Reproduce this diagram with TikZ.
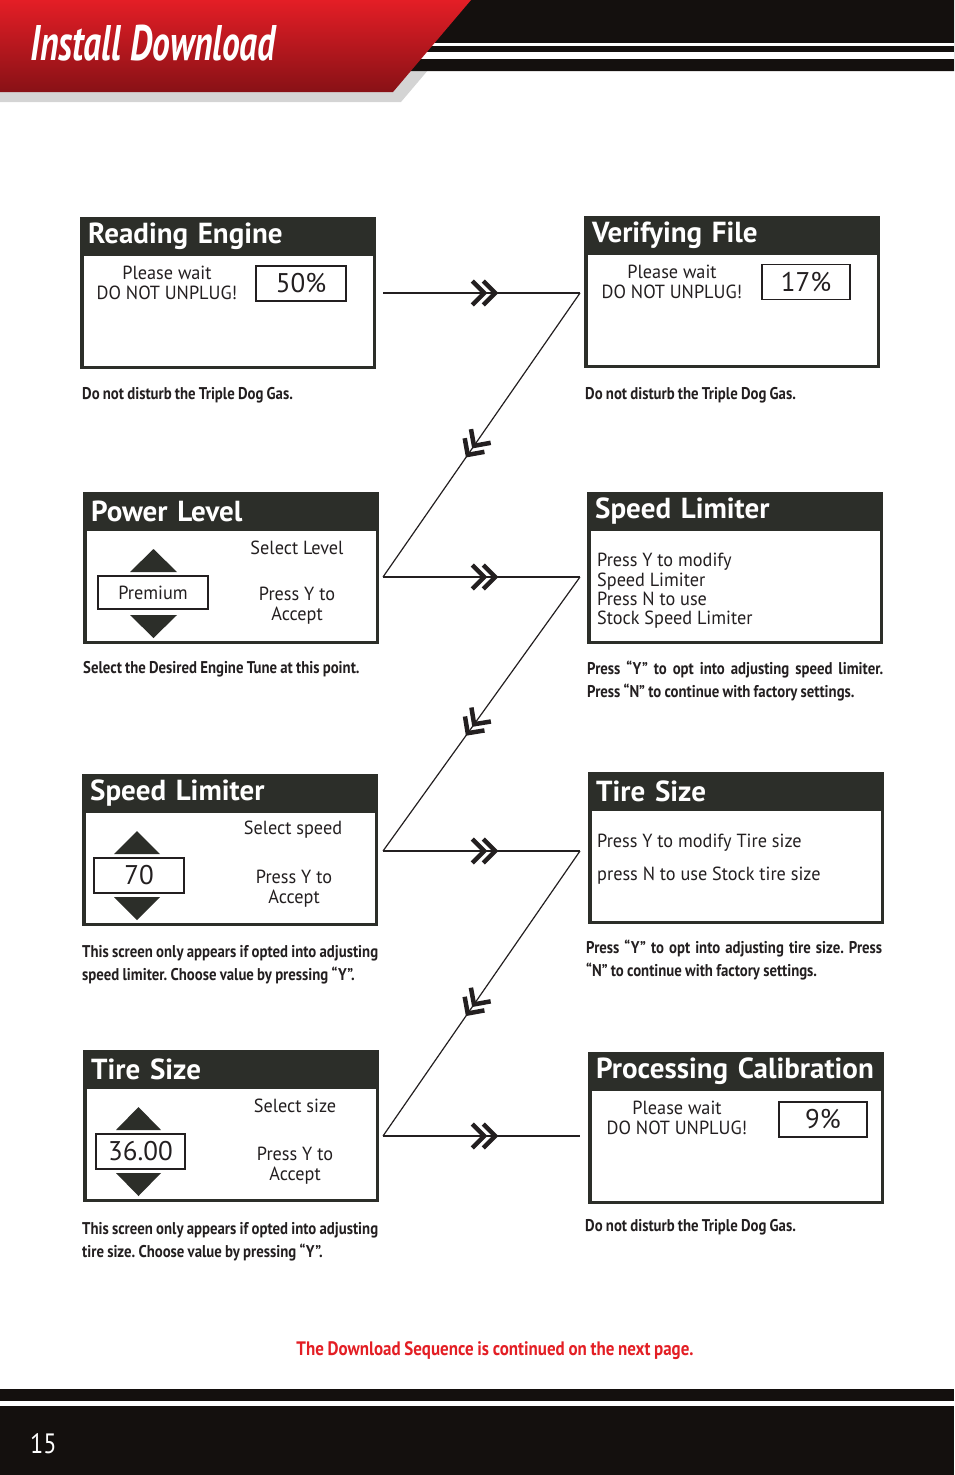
\documentclass[tikz,border=0pt]{standalone}
\usepackage{fontspec}
\setmainfont{PT Sans}
\newfontfamily\scrfont[FakeStretch=0.96]{PT Sans}
\newfontfamily\notefont[FakeStretch=0.87]{PT Sans}
\newfontfamily\bannerfont[FakeStretch=0.71]{PT Sans}
\usetikzlibrary{decorations.markings}
\frenchspacing

\definecolor{scrdark}{RGB}{44,46,41}
\definecolor{inkblack}{RGB}{35,31,32}
\definecolor{bandblack}{RGB}{20,16,14}
\definecolor{bannerred}{RGB}{228,30,38}
\definecolor{bannerdeep}{RGB}{136,17,22}
\definecolor{shadowgray}{RGB}{212,212,212}
\definecolor{noteRed}{RGB}{227,30,36}

\newcommand{\notespace}{\spaceskip=0.19em plus 0.1em minus 0.05em\relax}
\newcommand{\fullline}[1]{{\spaceskip=0.17em plus 1fil\relax\makebox[296pt][s]{#1}}}

\tikzset{
  scrframe/.style={draw=scrdark, line width=3.5pt, fill=white, anchor=north west,
    outer sep=auto, minimum width=292.5pt, minimum height=148.5pt, inner sep=0pt},
  scrhead/.style={fill=scrdark, text=white, anchor=north west, minimum height=38.5pt,
    text width=280pt, inner xsep=8pt, inner ysep=0pt, align=left,
    font=\fontsize{29}{30}\selectfont\bfseries},
  scrtext/.style={inner sep=0pt, align=center, text=inkblack, font=\scrfont\fontsize{19}{20}\selectfont},
  valbox/.style={draw=inkblack, line width=1.2pt, minimum width=90pt, minimum height=35pt,
    inner sep=0pt, text=inkblack, font=\fontsize{27}{28}\selectfont},
  scrnote/.style={anchor=north west, inner sep=0pt, text width=296pt, align=justify,
    text=inkblack, font=\notefont\bfseries\fontsize{17}{23}\selectfont,
    execute at begin node=\notespace},
  updown/.style={fill=scrdark},
  flow/.style={draw=inkblack, line width=1.2pt,
    decoration={markings, mark=at position 0.57 with {
      \draw[inkblack, line width=4.5pt, line cap=butt] (-12,12) -- (0,0) -- (-12,-12)
        (-23,12) -- (-11,0) -- (-23,-12);}},
    postaction={decorate}}
}

\begin{document}
\begin{tikzpicture}[x=1pt, y=-1pt]
  \useasboundingbox (0,0) rectangle (954,1475);

  % Banner
  \fill[shadowgray] (0,10) -- (479,10) -- (401,102) -- (0,102) -- cycle;
  \fill[bandblack] (440,0) -- (954,0) -- (954,71) -- (380,71) -- cycle;
  \fill[white] (420,43) rectangle (954,45.5);
  \fill[white] (420,52) rectangle (954,59);
  \shade[top color=bannerred, bottom color=bannerdeep]
    (0,0) -- (471,0) -- (393,92) -- (0,92) -- cycle;
  \node[anchor=base west, inner sep=0pt, text=white,
    font=\bannerfont\bfseries\itshape\fontsize{50}{50}\selectfont\notespace] (banner) at (30,60) {Install Download};

  % Screens, left column
  \node[scrframe] (re) at (80,217) {};
  \node[scrhead] (re-t) at (re.north west) {Reading Engine};
  \node[scrtext] (re-w) at (167,283) {Please wait\\DO NOT UNPLUG!};
  \node[valbox] (re-v) at (301,283.5) {50\%};

  \node[scrframe] (pl) at (83,492) {};
  \node[scrhead] (pl-t) at (pl.north west) {Power Level};
  \fill[updown] (130,572) -- (177,572) -- (153.5,549) -- cycle;
  \node[valbox, minimum width=110pt, minimum height=33pt, font=\scrfont\fontsize{19}{20}\selectfont] (pl-v) at (153,592.5) {Premium};
  \fill[updown] (130,615) -- (177,615) -- (153.5,638) -- cycle;
  \node[scrtext] (pl-s) at (297,548) {Select Level};
  \node[scrtext] (pl-a) at (297,606) {Press Y to\\Accept};

  \node[scrframe] (sl) at (82,774) {};
  \node[scrhead] (sl-t) at (sl.north west) {Speed Limiter};
  \fill[updown] (114,854) -- (160,854) -- (137,831) -- cycle;
  \node[valbox] (sl-v) at (139,875.5) {70};
  \fill[updown] (114,897) -- (160,897) -- (137,920) -- cycle;
  \node[scrtext] (sl-s) at (293,830) {Select speed};
  \node[scrtext] (sl-a) at (294,889) {Press Y to\\Accept};

  \node[scrframe] (tl) at (83,1050) {};
  \node[scrhead] (tl-t) at (tl.north west) {Tire Size};
  \fill[updown] (116,1130) -- (161,1130) -- (138.5,1107) -- cycle;
  \node[valbox, minimum width=89pt] (tl-v) at (140.5,1151.5) {36.00};
  \fill[updown] (116,1173) -- (161,1173) -- (138.5,1196) -- cycle;
  \node[scrtext] (tl-s) at (295,1106) {Select size};
  \node[scrtext] (tl-a) at (295,1166) {Press Y to\\Accept};

  % Screens, right column
  \node[scrframe] (vf) at (584,216) {};
  \node[scrhead] (vf-t) at (vf.north west) {Verifying File};
  \node[scrtext] (vf-w) at (672,282) {Please wait\\DO NOT UNPLUG!};
  \node[valbox, minimum width=88pt] (vf-v) at (806,282) {17\%};

  \node[scrframe] (sr) at (587,492) {};
  \node[scrhead] (sr-t) at (sr.north west) {Speed Limiter};
  \node[scrtext, anchor=west, align=left, font=\scrfont\fontsize{19}{19.3}\selectfont] (sr-m) at (597,591)
    {Press Y to modify\\Speed Limiter\\Press N to use\\Stock Speed Limiter};

  \node[scrframe] (tr) at (588,772) {};
  \node[scrhead] (tr-t) at (tr.north west) {Tire Size};
  \node[scrtext, anchor=west] (tr-y) at (597,843) {Press Y to modify Tire size};
  \node[scrtext, anchor=west] (tr-n) at (597,876) {press N to use Stock tire size};

  \node[scrframe] (pc) at (588,1052) {};
  \node[scrhead] (pc-t) at (pc.north west) {Processing Calibration};
  \node[scrtext] (pc-w) at (677,1117.5) {Please wait\\DO NOT UNPLUG!};
  \node[valbox, minimum width=88pt] (pc-v) at (823,1119.5) {9\%};

  % Notes under the screens
  \node[scrnote] (re-n) at (82,387) {Do not disturb the Triple Dog Gas.};
  \node[scrnote] (vf-n) at (585,387) {Do not disturb the Triple Dog Gas.};
  \node[scrnote] (pl-n) at (83,661) {Select the Desired Engine Tune at this point.};
  \node[scrnote] (sr-n) at (587,661)
    {\fullline{Press “Y” to opt into adjusting speed limiter.}\\Press “N” to continue with factory settings.};
  \node[scrnote] (sl-n) at (82,945)
    {\fullline{This screen only appears if opted into adjusting}\\speed limiter. Choose value by pressing “Y”.};
  \node[scrnote] (tr-n) at (586,940)
    {\fullline{Press “Y” to opt into adjusting tire size. Press}\\“N” to continue with factory settings.};
  \node[scrnote] (tl-n) at (82,1222)
    {\fullline{This screen only appears if opted into adjusting}\\tire size. Choose value by pressing “Y”.};
  \node[scrnote] (pc-n) at (585,1219) {Do not disturb the Triple Dog Gas.};

  % Flow between the screens
  \coordinate (f1a) at (383,293);
  \coordinate (f1b) at (580,293);
  \coordinate (f2a) at (383,577);
  \coordinate (f2b) at (580,577);
  \coordinate (f3a) at (383,851);
  \coordinate (f3b) at (580,851);
  \coordinate (f4a) at (383,1136);
  \coordinate (f4b) at (580,1136);
  \draw[flow] (f1a) -- (f1b);
  \draw[flow] (f1b) -- (f2a);
  \draw[flow] (f2a) -- (f2b);
  \draw[flow] (f2b) -- (f3a);
  \draw[flow] (f3a) -- (f3b);
  \draw[flow] (f3b) -- (f4a);
  \draw[flow] (f4a) -- (f4b);

  \node[anchor=base, inner sep=0pt, text=noteRed,
    font=\notefont\bfseries\fontsize{19.5}{20}\selectfont\notespace] (more) at (495,1355)
    {The Download Sequence is continued on the next page.};

  % Footer
  \fill[bandblack] (0,1389) rectangle (954,1401);
  \fill[bandblack] (0,1406) rectangle (954,1475);
  \node[anchor=base west, inner sep=0pt, text=white, font=\notefont\fontsize{28}{28}\selectfont] (pgno) at (30,1453) {15};
\end{tikzpicture}
\end{document}
